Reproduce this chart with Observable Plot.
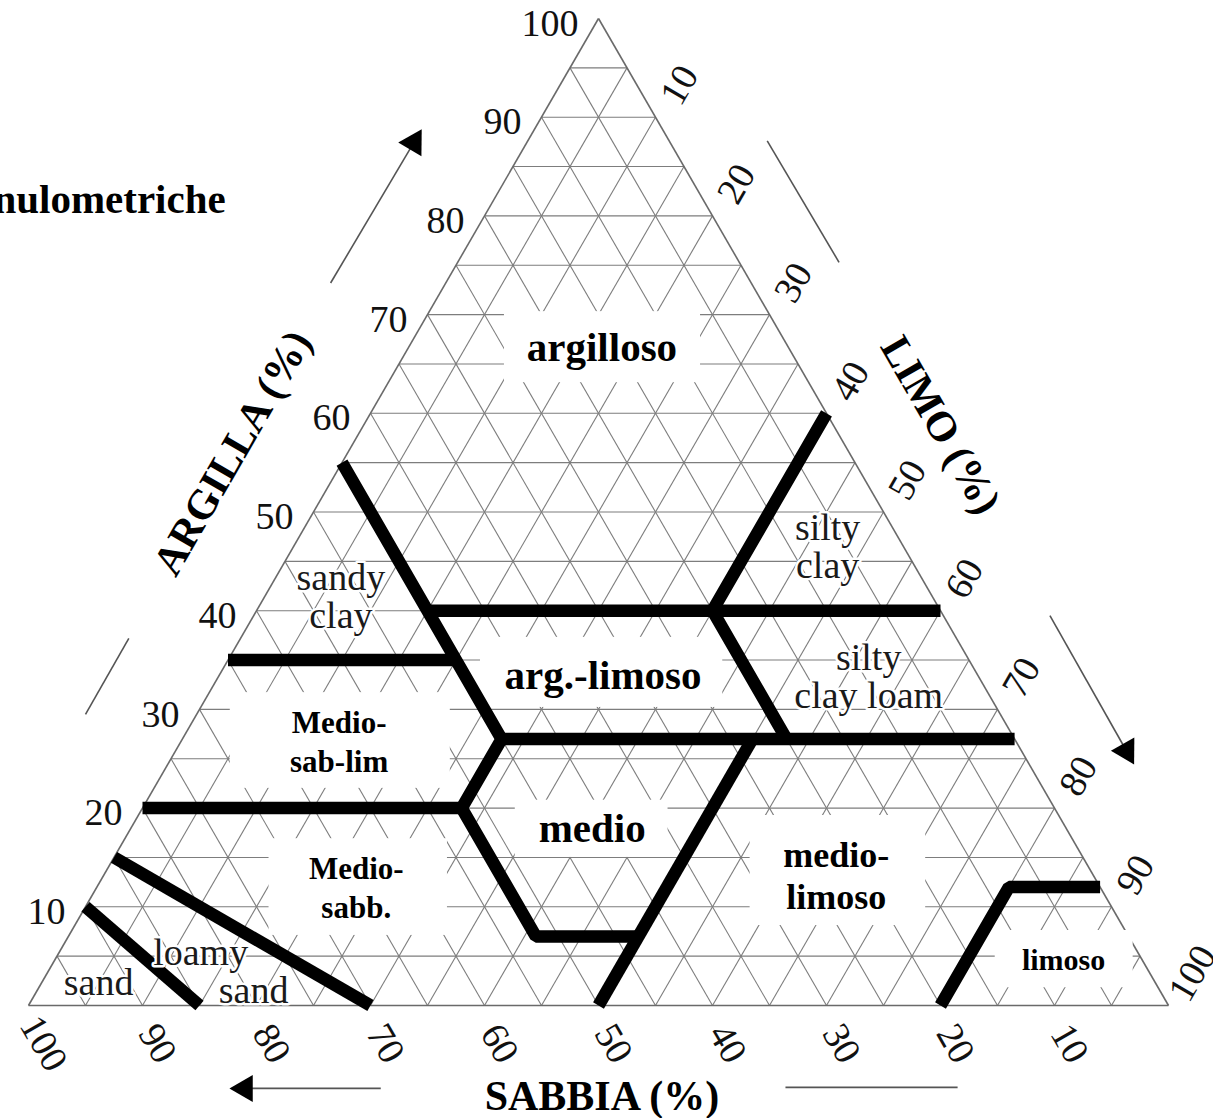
<!DOCTYPE html>
<html>
<head>
<meta charset="utf-8">
<script src="https://cdn.jsdelivr.net/npm/d3@7"></script>
<script src="https://cdn.jsdelivr.net/npm/@observablehq/plot@0.6"></script>
<style>
  html, body { margin: 0; padding: 0; background: #fff; }
  #chart { width: 1213px; height: 1118px; overflow: hidden; }
</style>
</head>
<body>
<div id="chart"></div>
<script>
// ---------- data (ternary: sand %, clay %; silt = 100 - sand - clay) ----------
const clayTicks = [100, 90, 80, 70, 60, 50, 40, 30, 20, 10];
const siltTicks = [10, 20, 30, 40, 50, 60, 70, 80, 90, 100];
const sandTicks = [100, 90, 80, 70, 60, 50, 40, 30, 20, 10];
const gridSteps = d3.range(5, 100, 5);

// class boundaries (polylines), points as [sand, clay]
const boundaryIds = ["A", "B", "C", "D", "E", "F", "G", "H", "I", "J"];
const boundaryPoints = [
  [[45, 55], [45, 27], [52, 20], [52, 7], [43, 7]],
  [[45, 40], [0, 40]],
  [[0, 60], [20, 40], [20, 27]],
  [[45, 27], [0, 27]],
  [[65, 35], [45, 35]],
  [[80, 20], [52, 20]],
  [[50, 0], [23, 27]],
  [[20, 0], [8, 12], [0, 12]],
  [[90, 10], [85, 0]],
  [[85, 15], [70, 0]]
];

// Italian class names (bold, on white panels)
const boldNames = ["argilloso", "arg.-limoso", "medio"];
const boldSand = [16.4, 32.9, 41.6];
const boldClay = [66.6, 33.4, 17.9];
const smallNames = ["Medio-\nsab-lim", "Medio-\nsabb."];
const smallSand = [59.3, 65.2];
const smallClay = [26.9, 12.1];
const midNames = ["medio-\nlimoso"];
const midSand = [22.5];
const midClay = [13.3];
const tinyNames = ["limoso"];
const tinySand = [6.9];
const tinyClay = [4.6];
// white panels behind Italian names, in plot units [x1, x2, y1, y2]
const panels = [
  [41.75, 58.95, 63.1, 70.3],
  [39.65, 60.9, 30.2, 37.3],
  [42.7, 56.1, 15.0, 20.8],
  [17.7, 37.0, 22.0, 31.7],
  [21.1, 36.75, 7.1, 16.9],
  [63.3, 78.7, 8.1, 19.25],
  [84.8, 96.9, 1.8, 7.6]
];

// USDA class names (regular)
const usdaNames = ["sandy\nclay", "silty\nclay", "silty\nclay loam", "loamy", "sand", "sand"];
const usdaSand = [51.9, 6.65, 9.65, 82.25, 79.5, 92.7];
const usdaClay = [41.4, 46.5, 33.3, 5.3, 1.5, 2.3];

// guide arrows / lines outside the triangle, plot units [x1, y1, x2, y2, head]
const guides = [
  [26.5, 73.2, 34.2, 88.2, true],
  [64.8, 87.6, 71.1, 75.3, false],
  [89.6, 39.5, 96.7, 25.0, true],
  [8.8, 37.2, 5.0, 29.5, false],
  [30.9, -8.4, 18.2, -8.4, true],
  [66.4, -8.3, 81.5, -8.3, false]
];

// axis titles, plot units
const titleText = ["ARGILLA (%)", "LIMO (%)", "SABBIA (%)"];
const titleX = [17.9, 80.0, 50.3];
const titleY = [56.0, 58.8, -9.2];
const titleRotate = [-60, 60, 0];
const headerText = ["Classi granulometriche"];

// ---------- helpers ----------
const PX = (sand, clay) => 100 - sand - clay / 2; // projected horizontal coordinate
const serif = "Liberation Serif, Times New Roman, serif";

const gridLines = [];
for (const v of gridSteps) {
  gridLines.push({s1: 100 - v, c1: v, s2: 0, c2: v});        // clay = v
  gridLines.push({s1: v, c1: 0, s2: v, c2: 100 - v});        // sand = v
  gridLines.push({s1: 100 - v, c1: 0, s2: 0, c2: 100 - v});  // silt = v
}
const border = [{s1: 100, c1: 0, s2: 0, c2: 0}, {s1: 0, c1: 0, s2: 0, c2: 100}, {s1: 0, c1: 100, s2: 100, c2: 0}];

const boundaryRows = boundaryIds.flatMap((id, i) => boundaryPoints[i].map(([sand, clay]) => ({id, sand, clay})));
const zip = (names, sands, clays) => names.map((t, i) => ({t, sand: sands[i], clay: clays[i]}));

const heads = guides.filter(g => g[4]).map(g => {
  const [x1, y1, x2, y2] = g;
  const sx = 11.4, sy = 9.87;
  const dxp = (x2 - x1) * sx, dyp = -(y2 - y1) * sy;
  const len = Math.hypot(dxp, dyp);
  const ux = dxp / len, uy = dyp / len;
  const back = 9; // pixels from tip to symbol centroid
  const ang = Math.atan2(ux, -uy) * 180 / Math.PI;
  return {x: x2 - ux * back / sx, y: y2 + uy * back / sy, ang};
});

const chart = Plot.plot({
  width: 1213,
  height: 1118,
  margin: 0,
  x: {domain: [0, 100], range: [28, 1168], axis: null},
  y: {domain: [0, 100], range: [1005, 18], axis: null},
  style: {background: "white"},
  marks: [
    Plot.link(gridLines, {
      x1: d => PX(d.s1, d.c1), y1: "c1", x2: d => PX(d.s2, d.c2), y2: "c2",
      stroke: "#7d7d7d", strokeWidth: 1.1
    }),
    Plot.link(border, {
      x1: d => PX(d.s1, d.c1), y1: "c1", x2: d => PX(d.s2, d.c2), y2: "c2",
      stroke: "#6a6a6a", strokeWidth: 1.6
    }),
    Plot.rect(panels, {x1: d => d[0], x2: d => d[1], y1: d => d[2], y2: d => d[3], fill: "white"}),
    Plot.line(boundaryRows, {
      x: d => PX(d.sand, d.clay), y: "clay", z: "id",
      stroke: "black", strokeWidth: 12.5, strokeLinejoin: "miter", strokeLinecap: "butt"
    }),
    // tick labels
    Plot.text(clayTicks, {
      x: c => PX(100 - c, c), y: c => c, text: c => String(c),
      dx: -20, dy: 5, textAnchor: "end", fontFamily: serif, fontSize: 38, fill: "#111"
    }),
    Plot.text(siltTicks, {
      x: s => PX(0, 100 - s), y: s => 100 - s, text: s => String(s),
      dx: 24, dy: -32, rotate: -60, fontFamily: serif, fontSize: 38, fill: "#111"
    }),
    Plot.text(sandTicks, {
      x: s => PX(s, 0), y: 0, text: s => String(s),
      dx: 15, dy: 38, rotate: 60, fontFamily: serif, fontSize: 38, fill: "#111"
    }),
    // USDA names
    Plot.text(zip(usdaNames, usdaSand, usdaClay), {
      x: d => PX(d.sand, d.clay), y: "clay", text: "t",
      fontFamily: serif, fontSize: 38, lineHeight: 1.0, fill: "#1a1a1a",
      stroke: "white", strokeWidth: 5
    }),
    // Italian names
    Plot.text(zip(boldNames, boldSand, boldClay), {
      x: d => PX(d.sand, d.clay), y: "clay", text: "t",
      fontFamily: serif, fontWeight: "bold", fontSize: 41, fill: "black"
    }),
    Plot.text(zip(smallNames, smallSand, smallClay), {
      x: d => PX(d.sand, d.clay), y: "clay", text: "t",
      fontFamily: serif, fontWeight: "bold", fontSize: 31, lineHeight: 1.25, fill: "black"
    }),
    Plot.text(zip(midNames, midSand, midClay), {
      x: d => PX(d.sand, d.clay), y: "clay", text: "t",
      fontFamily: serif, fontWeight: "bold", fontSize: 36, lineHeight: 1.17, fill: "black"
    }),
    Plot.text(zip(tinyNames, tinySand, tinyClay), {
      x: d => PX(d.sand, d.clay), y: "clay", text: "t",
      fontFamily: serif, fontWeight: "bold", fontSize: 30, fill: "black"
    }),
    // guides
    Plot.link(guides, {x1: d => d[0], y1: d => d[1], x2: d => d[2], y2: d => d[3], stroke: "#555", strokeWidth: 1.6}),
    Plot.dot(heads, {x: "x", y: "y", rotate: "ang", symbol: "triangle", r: 10, fill: "black", stroke: "none"}),
    // axis titles
    Plot.text(titleText.map((t, i) => ({t, x: titleX[i], y: titleY[i], r: titleRotate[i]})), {
      x: "x", y: "y", text: "t", rotate: "r",
      fontFamily: serif, fontWeight: "bold", fontSize: 42, fill: "black"
    }),
    Plot.text(headerText, {
      x: 17.3, y: 81.6, text: d => d, textAnchor: "end",
      fontFamily: serif, fontWeight: "bold", fontSize: 41, fill: "black"
    })
  ]
});
document.getElementById("chart").appendChild(chart);
</script>
</body>
</html>
